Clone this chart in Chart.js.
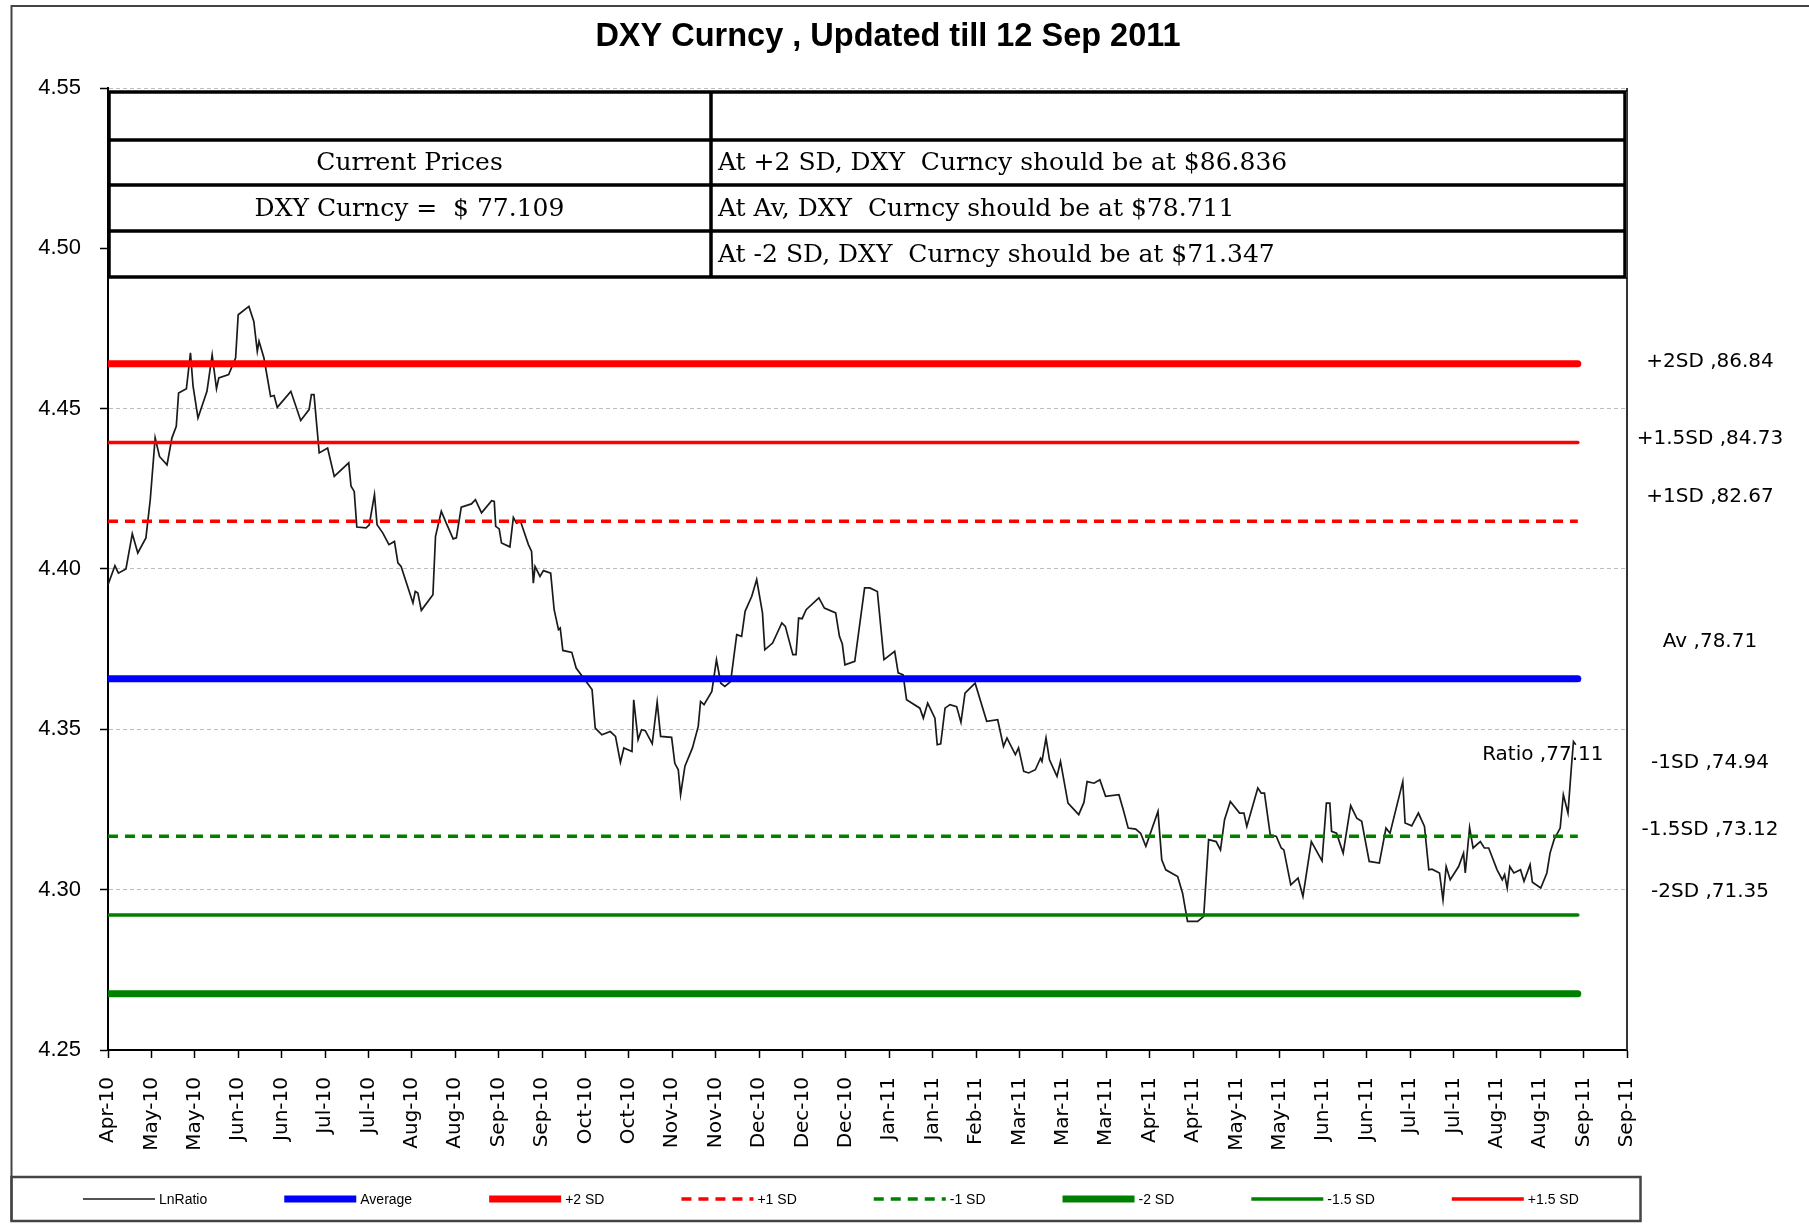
<!DOCTYPE html>
<html>
<head>
<meta charset="utf-8">
<title>DXY Curncy</title>
<script src="https://cdn.jsdelivr.net/npm/chart.js@4.4.1/dist/chart.umd.min.js"></script>
<style>
  html, body { margin: 0; padding: 0; background: #fff; }
  canvas { display: block; }
</style>
</head>
<body>
<canvas id="dxyChart" width="1809" height="1228"></canvas>
<script>
// x axis: days since 20 Apr 2010, one tick every 15 days
const xTickLabels = ['Apr-10', 'May-10', 'May-10', 'Jun-10', 'Jun-10', 'Jul-10', 'Jul-10', 'Aug-10', 'Aug-10',
    'Sep-10', 'Sep-10', 'Oct-10', 'Oct-10', 'Nov-10', 'Nov-10', 'Dec-10', 'Dec-10', 'Dec-10',
    'Jan-11', 'Jan-11', 'Feb-11', 'Mar-11', 'Mar-11', 'Mar-11', 'Apr-11', 'Apr-11', 'May-11',
    'May-11', 'Jun-11', 'Jun-11', 'Jul-11', 'Jul-11', 'Aug-11', 'Aug-11', 'Sep-11', 'Sep-11'];

const ratioDays = [
    0, 2.4, 3.6, 6.2, 8.4, 10.3, 13.1, 14.6, 16.3, 17.8,
    20.4, 22.1, 23.6, 24.4, 27.1, 28.5, 29.4, 31.1, 34.2, 36.0,
    37.5, 38.3, 41.7, 44.1, 45.0, 48.7, 50.4, 51.6, 52.2, 53.9,
    56.2, 57.4, 58.5, 63.2, 66.6, 69.5, 70.3, 71.2, 73.0, 75.9,
    78.2, 83.2, 84.0, 85.1, 86.0, 89.2, 90.3, 92.1, 93.0, 95.0,
    97.1, 99.0, 100.2, 101.3, 105.4, 106.2, 107.1, 108.3, 112.3, 113.2,
    115.2, 116.9, 119.3, 120.4, 122.1, 125.6, 127.0, 129.1, 132.6, 133.5,
    134.0, 135.2, 136.0, 138.9, 140.1, 141.2, 142.6, 145.3, 146.4, 147.0,
    147.6, 149.3, 150.5, 153.0, 154.2, 155.7, 156.3, 157.2, 160.3, 161.8,
    167.3, 168.4, 170.7, 173.6, 175.4, 177.1, 178.3, 181.1, 181.7, 183.2,
    184.4, 185.7, 188.1, 189.8, 191.0, 194.8, 195.9, 197.1, 197.9, 199.4,
    202.0, 204.0, 204.8, 206.0, 208.7, 210.3, 211.8, 213.2, 215.2, 217.3,
    219.0, 220.2, 222.5, 224.2, 226.2, 227.0, 229.7, 232.9, 234.1, 236.7,
    237.8, 238.7, 239.9, 241.3, 245.7, 247.6, 251.5, 252.8, 253.8, 254.7,
    258.1, 261.5, 263.3, 265.9, 268.2, 271.9, 273.1, 274.8, 276.0, 280.6,
    281.8, 283.3, 285.8, 286.6, 287.8, 289.3, 291.0, 293.3, 294.8, 296.2,
    299.7, 303.7, 307.5, 309.5, 310.7, 313.6, 314.7, 316.5, 318.2, 320.5,
    322.3, 322.8, 324.2, 325.4, 328.0, 329.2, 331.8, 335.5, 337.3, 338.4,
    340.8, 342.8, 344.8, 349.4, 350.9, 352.6, 355.2, 356.9, 358.7, 362.9,
    364.2, 365.6, 369.7, 371.4, 373.1, 376.6, 378.7, 380.4, 383.0, 384.5,
    385.9, 387.9, 391.1, 392.6, 393.6, 397.4, 398.6, 399.7, 401.7, 403.8,
    405.5, 406.4, 408.8, 411.3, 413.0, 415.9, 419.6, 421.1, 422.3, 422.9,
    424.6, 426.9, 429.5, 431.6, 433.3, 435.9, 439.4, 441.7, 443.1, 447.5,
    448.3, 450.6, 452.9, 455.0, 456.5, 457.6, 460.2, 461.4, 462.5, 463.9,
    466.8, 468.5, 469.1, 470.6, 471.8, 474.3, 475.7, 477.2, 480.1, 481.9,
    482.7, 483.6, 484.5, 485.9, 488.2, 489.4, 491.5, 492.3, 495.2, 497.3,
    498.4, 499.8, 501.9, 503.0, 504.6, 505.8, 506.5, 507.3
];

const ratioValues = [
    4.3951, 4.4010, 4.3987, 4.4000, 4.4110, 4.4050, 4.4097, 4.4216, 4.4409, 4.4351,
    4.4325, 4.4409, 4.4445, 4.4549, 4.4562, 4.4674, 4.4570, 4.4471, 4.4554, 4.4668,
    4.4562, 4.4596, 4.4606, 4.4658, 4.4793, 4.4819, 4.4772, 4.4679, 4.4710, 4.4658,
    4.4538, 4.4541, 4.4504, 4.4554, 4.4463, 4.4497, 4.4544, 4.4544, 4.4362, 4.4377,
    4.4289, 4.4331, 4.4258, 4.4242, 4.4131, 4.4128, 4.4138, 4.4232, 4.4138, 4.4112,
    4.4076, 4.4086, 4.4019, 4.4008, 4.3894, 4.3930, 4.3925, 4.3871, 4.3920, 4.4102,
    4.4180, 4.4143, 4.4094, 4.4097, 4.4193, 4.4203, 4.4216, 4.4175, 4.4213, 4.4211,
    4.4133, 4.4125, 4.4081, 4.4069, 4.4161, 4.4143, 4.4148, 4.4076, 4.4055, 4.3956,
    4.4008, 4.3977, 4.3995, 4.3987, 4.3873, 4.3811, 4.3816, 4.3746, 4.3740, 4.3691,
    4.3624, 4.3504, 4.3483, 4.3493, 4.3478, 4.3397, 4.3442, 4.3431, 4.3592, 4.3468,
    4.3499, 4.3496, 4.3455, 4.3585, 4.3478, 4.3475, 4.3394, 4.3374, 4.3296, 4.3385,
    4.3442, 4.3509, 4.3587, 4.3577, 4.3618, 4.3717, 4.3644, 4.3634, 4.3649, 4.3795,
    4.3790, 4.3868, 4.3915, 4.3967, 4.3863, 4.3748, 4.3769, 4.3832, 4.3821, 4.3733,
    4.3733, 4.3847, 4.3845, 4.3873, 4.3910, 4.3878, 4.3863, 4.3790, 4.3766, 4.3701,
    4.3712, 4.3941, 4.3941, 4.3930, 4.3717, 4.3743, 4.3676, 4.3670, 4.3592, 4.3566,
    4.3535, 4.3582, 4.3535, 4.3452, 4.3455, 4.3566, 4.3577, 4.3571, 4.3522, 4.3613,
    4.3644, 4.3525, 4.3530, 4.3447, 4.3473, 4.3421, 4.3442, 4.3369, 4.3364, 4.3374,
    4.3410, 4.3400, 4.3473, 4.3405, 4.3353, 4.3400, 4.3270, 4.3234, 4.3272, 4.3337,
    4.3332, 4.3343, 4.3291, 4.3296, 4.3249, 4.3192, 4.3189, 4.3176, 4.3135, 4.3244,
    4.3093, 4.3062, 4.3041, 4.2989, 4.2901, 4.2901, 4.2917, 4.3156, 4.3150, 4.3124,
    4.3218, 4.3275, 4.3239, 4.3239, 4.3197, 4.3317, 4.3301, 4.3301, 4.3171, 4.3166,
    4.3130, 4.3124, 4.3015, 4.3036, 4.2979, 4.3150, 4.3090, 4.3270, 4.3270, 4.3182,
    4.3176, 4.3114, 4.3262, 4.3223, 4.3213, 4.3088, 4.3083, 4.3192, 4.3176, 4.3337,
    4.3208, 4.3199, 4.3239, 4.3197, 4.3062, 4.3064, 4.3052, 4.2968, 4.3072, 4.3031,
    4.3072, 4.3114, 4.3052, 4.3194, 4.3130, 4.3150, 4.3130, 4.3130, 4.3062, 4.3031,
    4.3047, 4.3005, 4.3072, 4.3052, 4.3062, 4.3026, 4.3078, 4.3023, 4.3005, 4.3052,
    4.3114, 4.3156, 4.3192, 4.3296, 4.3239, 4.3384, 4.3462, 4.3452
];

// mean and SD bands of ln(price)
const bandNames = ['Average', '+2 SD', '+1 SD', '-1 SD', '-2 SD', '-1.5 SD', '+1.5 SD'];
const bandValues = [4.365784, 4.464021, 4.414903, 4.316666, 4.267547, 4.292107, 4.439462];
const bandStart = 0;
const bandEnd = 508;

const sideLabels = ['+2SD ,86.84', '+1.5SD ,84.73', '+1SD ,82.67', 'Av ,78.71', '-1SD ,74.94', '-1.5SD ,73.12', '-2SD ,71.35'];
const sideLabelAt = [4.4645, 4.4406, 4.4226, 4.3772, 4.3396, 4.3187, 4.2992];
const ratioLabel = 'Ratio ,77.11';

const tableLeft = ['', 'Current Prices', 'DXY Curncy =  $ 77.109', ''];
const tableRight = ['', 'At +2 SD, DXY  Curncy should be at $86.836', 'At Av, DXY  Curncy should be at $78.711', 'At -2 SD, DXY  Curncy should be at $71.347'];

const chartTitle = 'DXY Curncy , Updated till 12 Sep 2011';

const RED = '#ff0000', GREEN = '#008000', BLUE = '#0000ff';
const bandStyles = {
    'Average': { color: BLUE, width: 7 },
    '+2 SD': { color: RED, width: 7 },
    '+1 SD': { color: RED, width: 3.5, dash: [10, 7] },
    '-1 SD': { color: GREEN, width: 3.5, dash: [10, 7] },
    '-2 SD': { color: GREEN, width: 7 },
    '-1.5 SD': { color: GREEN, width: 3.5 },
    '+1.5 SD': { color: RED, width: 3.5 }
};

const datasets = [{
    label: 'LnRatio',
    data: ratioDays.map((d, i) => ({ x: d, y: ratioValues[i] })),
    borderColor: '#1a1a1a',
    borderWidth: 1.7,
    pointRadius: 0,
    tension: 0,
    order: 1
}];
bandNames.forEach((name, i) => {
    const s = bandStyles[name];
    datasets.push({
        label: name,
        data: [{ x: bandStart, y: bandValues[i] }, { x: bandEnd, y: bandValues[i] }],
        borderColor: s.color,
        backgroundColor: s.color,
        borderWidth: s.width,
        borderDash: s.dash || [],
        borderCapStyle: s.dash ? 'butt' : 'round',
        pointRadius: 0,
        order: 0
    });
});

// legend drawn by hand so the item spacing can match the original
function drawLegend(chart) {
    const ctx = chart.ctx;
    const y = 1199;
    let x = 83;
    ctx.save();
    ctx.font = '14px "Liberation Sans", Arial, sans-serif';
    ctx.textBaseline = 'middle';
    ctx.textAlign = 'left';
    chart.data.datasets.forEach((ds) => {
        ctx.strokeStyle = ds.borderColor;
        ctx.lineWidth = ds.borderWidth;
        ctx.setLineDash(ds.borderDash || []);
        ctx.lineCap = 'butt';
        ctx.beginPath();
        ctx.moveTo(x, y);
        ctx.lineTo(x + 72, y);
        ctx.stroke();
        ctx.setLineDash([]);
        ctx.fillStyle = '#000';
        ctx.fillText(ds.label, x + 76, y + 1);
        x += 72 + 7 + ctx.measureText(ds.label).width + 74;
    });
    ctx.restore();
}

const decorPlugin = {
    id: 'decor',
    beforeDraw(chart) {
        const ctx = chart.ctx;
        ctx.save();
        ctx.fillStyle = '#fff';
        ctx.fillRect(0, 0, chart.width, chart.height);
        ctx.restore();
    },
    beforeDatasetsDraw(chart) {
        const ctx = chart.ctx;
        const xs = chart.scales.x, ys = chart.scales.y;
        const lastX = xs.getPixelForValue(ratioDays[ratioDays.length - 1]);
        const lastY = ys.getPixelForValue(ratioValues[ratioValues.length - 1]);
        ctx.save();
        ctx.font = '20px "DejaVu Sans"';
        ctx.fillStyle = '#000';
        ctx.textAlign = 'center';
        ctx.textBaseline = 'middle';
        ctx.fillText(ratioLabel, lastX - 33, lastY + 10);
        ctx.restore();
    },
    afterDraw(chart) {
        const ctx = chart.ctx;
        const area = chart.chartArea;
        const ys = chart.scales.y;
        ctx.save();

        // outer frame and legend box
        ctx.strokeStyle = '#444';
        ctx.lineWidth = 2;
        ctx.beginPath();
        ctx.moveTo(chart.width, 6);
        ctx.lineTo(11.5, 6);
        ctx.lineTo(11.5, 1221);
        ctx.stroke();
        ctx.lineWidth = 2.5;
        ctx.strokeRect(11.5, 1177, 1629, 44);

        // right border of the plot
        ctx.strokeStyle = '#333';
        ctx.lineWidth = 2;
        ctx.beginPath();
        ctx.moveTo(area.right, area.top);
        ctx.lineTo(area.right, area.bottom);
        ctx.stroke();

        // title
        ctx.fillStyle = '#000';
        ctx.font = 'bold 32.5px "Liberation Sans", Arial, sans-serif';
        ctx.textAlign = 'center';
        ctx.textBaseline = 'middle';
        ctx.fillText(chartTitle, 888, 37);

        // table inside the plot
        const rows = [area.top + 4, 140, 185, 231, 277];
        const colSplit = 711;
        ctx.fillStyle = '#fff';
        ctx.fillRect(area.left, rows[0], area.right - area.left, rows[4] - rows[0]);
        ctx.strokeStyle = '#000';
        ctx.lineWidth = 3.5;
        ctx.strokeRect(area.left + 1, rows[0], area.right - area.left - 3, rows[4] - rows[0]);
        ctx.beginPath();
        for (let r = 1; r < 4; r++) {
            ctx.moveTo(area.left, rows[r]);
            ctx.lineTo(area.right - 2, rows[r]);
        }
        ctx.moveTo(colSplit, rows[0]);
        ctx.lineTo(colSplit, rows[4]);
        ctx.stroke();

        ctx.fillStyle = '#000';
        ctx.font = '25px "DejaVu Serif", serif';
        ctx.textBaseline = 'middle';
        for (let r = 0; r < 4; r++) {
            const cy = (rows[r] + rows[r + 1]) / 2 + 1;
            ctx.textAlign = 'center';
            if (tableLeft[r]) ctx.fillText(tableLeft[r], (area.left + colSplit) / 2, cy);
            ctx.textAlign = 'left';
            if (tableRight[r]) ctx.fillText(tableRight[r], colSplit + 7, cy);
        }

        // band labels in the right margin
        ctx.font = '20px "DejaVu Sans"';
        ctx.textAlign = 'center';
        sideLabels.forEach((txt, i) => {
            ctx.fillText(txt, area.right + 83, ys.getPixelForValue(sideLabelAt[i]));
        });
        ctx.restore();

        drawLegend(chart);
    }
};

new Chart(document.getElementById('dxyChart').getContext('2d'), {
    type: 'line',
    data: { datasets: datasets },
    options: {
        responsive: false,
        animation: false,
        devicePixelRatio: 1,
        layout: { padding: { left: 12, top: 88, right: 182, bottom: 58 } },
        plugins: {
            title: { display: false },
            tooltip: { enabled: false },
            legend: { display: false }
        },
        scales: {
            x: {
                type: 'linear',
                min: 0,
                max: 525,
                afterFit(scale) { scale.height = 120; },
                ticks: {
                    stepSize: 15,
                    autoSkip: false,
                    minRotation: 90,
                    maxRotation: 90,
                    padding: 19,
                    color: '#000',
                    font: { family: '"DejaVu Sans"', size: 20 },
                    callback: (value, index) => xTickLabels[index]
                },
                grid: {
                    drawOnChartArea: false,
                    drawTicks: true,
                    tickLength: 8,
                    tickColor: '#000',
                    tickWidth: 1.5
                },
                border: { display: true, color: '#000', width: 2 }
            },
            y: {
                min: 4.25,
                max: 4.55,
                afterFit(scale) { scale.width = 96; },
                ticks: {
                    stepSize: 0.05,
                    padding: 19,
                    color: '#000',
                    font: { family: '"Liberation Sans", Arial, sans-serif', size: 22 },
                    callback: (value) => value.toFixed(2)
                },
                grid: {
                    color: '#bdbdbd',
                    lineWidth: 1,
                    drawTicks: true,
                    tickLength: 8,
                    tickColor: '#000',
                    tickWidth: 1.5,
                    tickBorderDash: []
                },
                border: { display: true, color: '#000', width: 2, dash: [4, 3] }
            }
        }
    },
    plugins: [decorPlugin]
});
</script>
</body>
</html>
